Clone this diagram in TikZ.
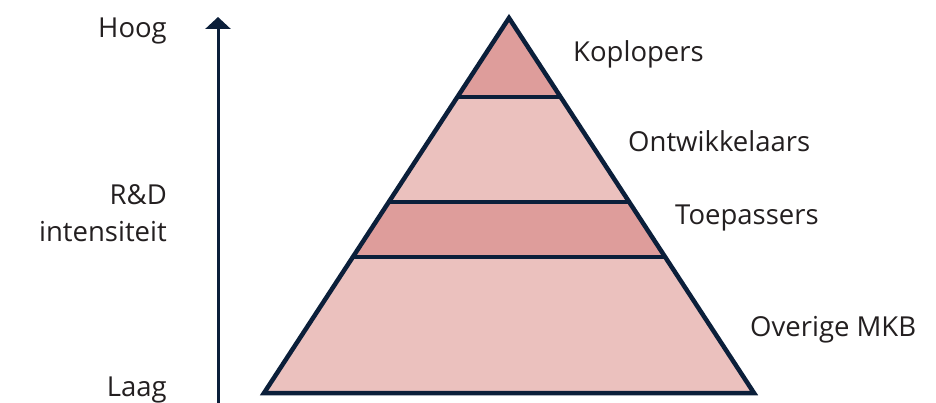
\documentclass[tikz,border=0pt]{standalone}
\usepackage{fontspec}
\setmainfont{Open Sans}
\usetikzlibrary{arrows.meta}
\definecolor{navy}{HTML}{0B1F3A}
\definecolor{bandlight}{HTML}{EBC1BE}
\definecolor{banddark}{HTML}{DE9D9B}
\definecolor{txt}{HTML}{231F20}
\tikzset{
  lbl/.style={font=\fontsize{27.5}{33}\selectfont, text=txt, inner sep=0pt},
  band/.style={draw=navy, line width=4.5pt, line join=miter},
}
\begin{document}
\begin{tikzpicture}[x=1pt,y=-1pt]
\useasboundingbox (0,0) rectangle (936,403);
% pyramid coordinates
\coordinate (A) at (509,18);
\coordinate (L1) at (457,97);  \coordinate (R1) at (561,97);
\coordinate (L2) at (388,202); \coordinate (R2) at (630,202);
\coordinate (L3) at (352,257); \coordinate (R3) at (666,257);
\coordinate (BL) at (264,393); \coordinate (BR) at (754,393);
\fill[bandlight] (BL) -- (A) -- (BR) -- cycle;
\fill[banddark] (L1) -- (A) -- (R1) -- cycle;
\fill[banddark] (L3) -- (L2) -- (R2) -- (R3) -- cycle;
\draw[band] (L1) -- (R1);
\draw[band] (L2) -- (R2);
\draw[band] (L3) -- (R3);
\draw[band] (BL) -- (A) -- (BR) -- cycle;
% axis arrow
\coordinate (ax0) at (218,403);
\coordinate (ax1) at (218,17);
\draw[navy, line width=3pt, -{Triangle[width=25pt,length=12pt]}] (ax0) -- (ax1);
% labels
\node[lbl, anchor=base east] (hoog) at (167,38) {Hoog};
\node[lbl, anchor=base east] (rd) at (167,205) {R\&D};
\node[lbl, anchor=base east] (int) at (167,242) {intensiteit};
\node[lbl, anchor=base east] (laag) at (167,396) {Laag};
\node[lbl, anchor=base west] (kop) at (573,62) {Koplopers};
\node[lbl, anchor=base west] (ont) at (628,152) {Ontwikkelaars};
\node[lbl, anchor=base west] (toe) at (675,225) {Toepassers};
\node[lbl, anchor=base west] (ove) at (750,336) {Overige MKB};
\end{tikzpicture}
\end{document}
